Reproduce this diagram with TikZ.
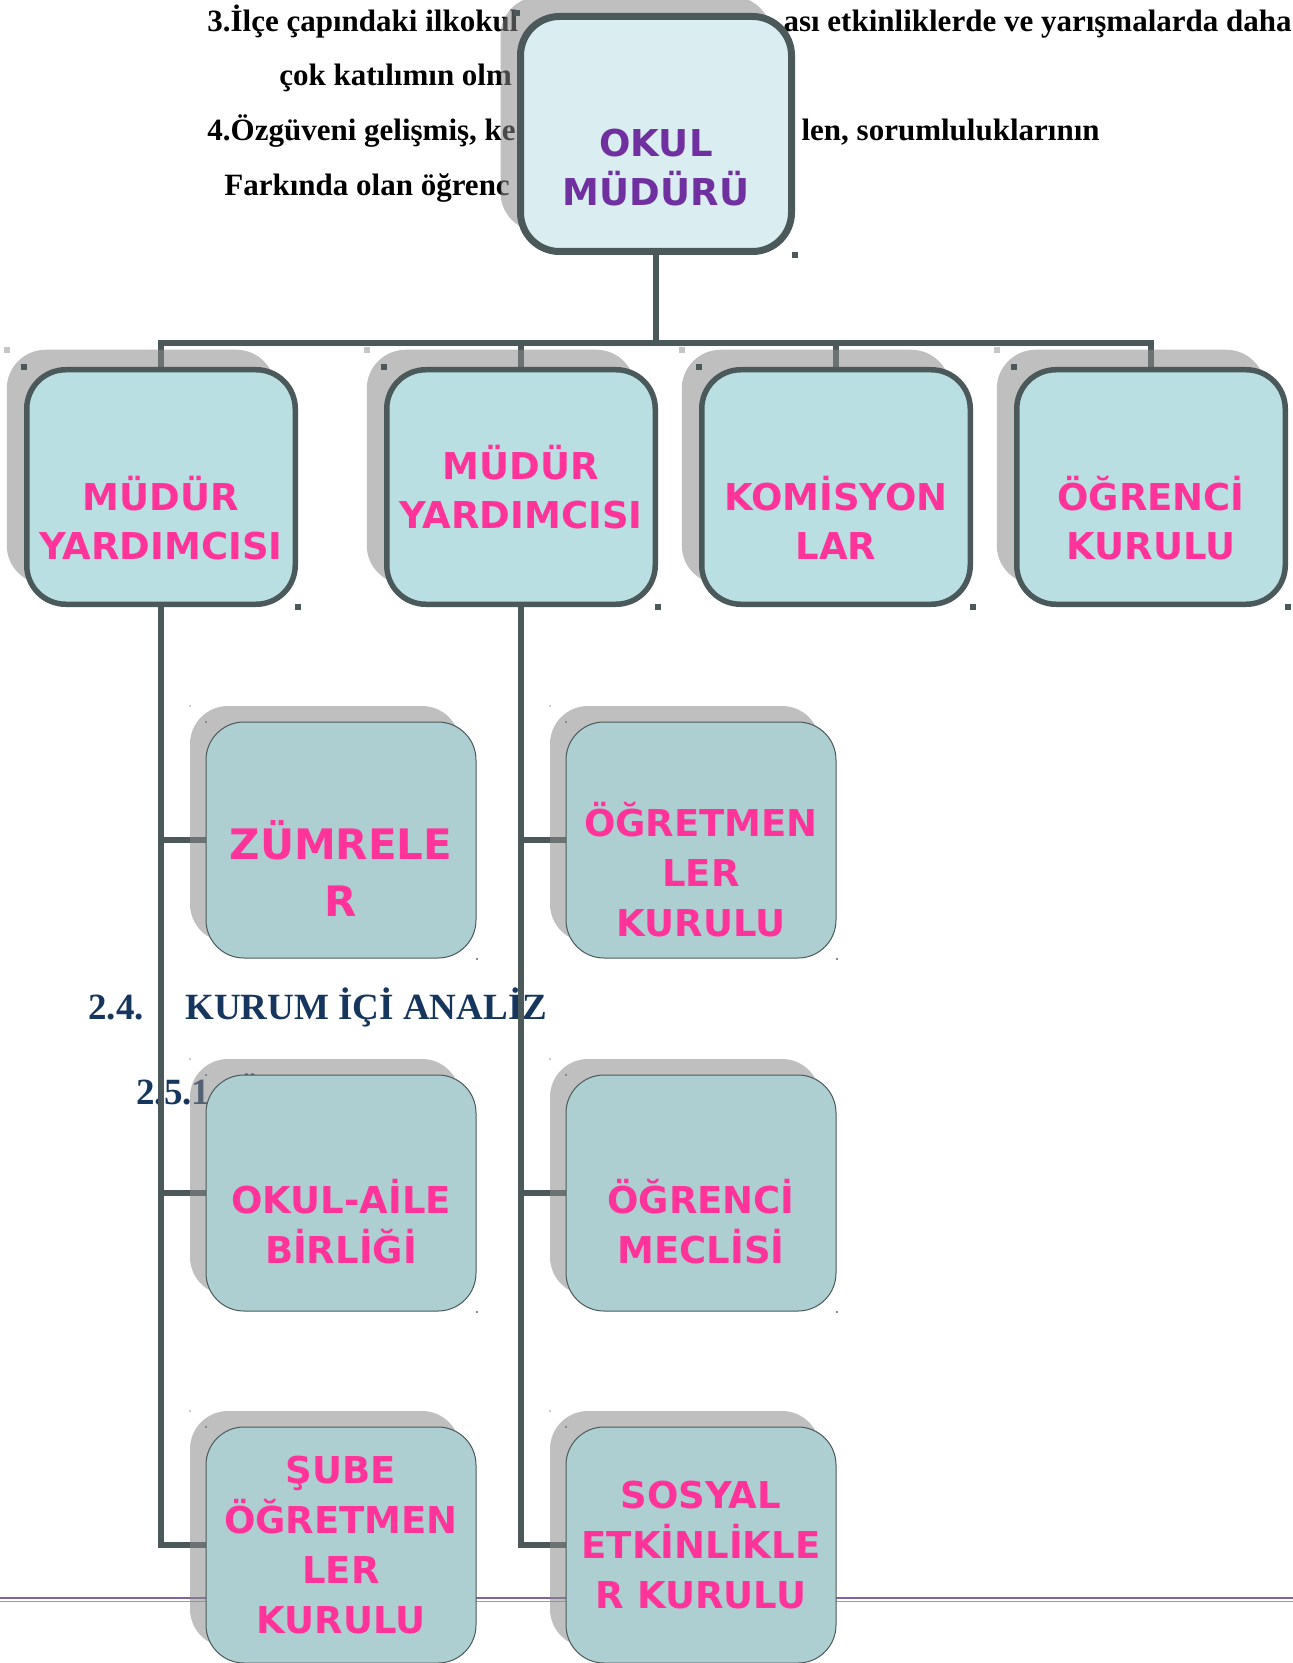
\documentclass[tikz,border=0pt]{standalone}
\usepackage{fontspec}
\setmainfont{Liberation Serif}
\newfontfamily\kutufont{DejaVu Sans}
\usetikzlibrary{shadows,backgrounds}
\definecolor{koyu}{HTML}{4B595A}
\definecolor{golgegri}{HTML}{888888}
\definecolor{ustmavi}{HTML}{DAEEF1}
\definecolor{birmavi}{HTML}{B9DFE2}
\definecolor{ikimavi}{HTML}{ADCFD2}
\definecolor{pembe}{HTML}{FF3399}
\definecolor{mor}{HTML}{7030A0}
\definecolor{lacivert}{HTML}{17365D}
\definecolor{cizgimor}{HTML}{8064A2}
\newcommand{\birim}{\kutufont\bfseries\fontsize{18.5}{24.5}\selectfont}
\newcommand{\birimb}{\kutufont\bfseries\fontsize{18.5}{25}\selectfont}
\newcommand{\metin}{\bfseries\fontsize{15.5}{18}\selectfont}
\newcommand{\baslik}{\bfseries\fontsize{18.5}{22}\selectfont}

\tikzset{
  golge/.style={general shadow={fill=golgegri,opacity=.54,shadow xshift=-#1,shadow yshift=#1}},
  ustkutu/.style={rectangle,rounded corners=19.5pt,draw=koyu,line width=3.5pt,fill=ustmavi,
                  minimum width=135.5pt,minimum height=117.5pt,inner sep=0pt,golge=10pt},
  birkutu/.style={rectangle,rounded corners=19.5pt,draw=koyu,line width=2.75pt,fill=birmavi,
                  minimum width=134.25pt,minimum height=117.25pt,inner sep=0pt,golge=10pt},
  ikikutu/.style={rectangle,rounded corners=19pt,draw=koyu,line width=0.5pt,fill=ikimavi,
                  minimum width=135pt,minimum height=118pt,inner sep=0pt,golge=8pt},
  yazi/.style={align=center,inner sep=0pt,text=pembe,font=\birim},
  sayfa/.style={anchor=base west,inner sep=0pt,font=\metin},
  baglanti/.style={draw=koyu,line width=2.9pt}
}

\begin{document}
\begin{tikzpicture}[x=0.5pt,y=-0.5pt]
 \useasboundingbox (0,0) rectangle (1293,1663);
 \clip (0,0) rectangle (1293,1663);

 % kutular
 \draw (656,134)  node[ustkutu] (OKUL) {};

 \draw (161,487)  node[birkutu] (MY1) {};
 \draw (521,487)  node[birkutu] (MY2) {};
 \draw (836,487)  node[birkutu] (KOM) {};
 \draw (1151,487) node[birkutu] (OGK) {};

 \draw (341,840)  node[ikikutu] (ZUM) {};
 \draw (341,1193) node[ikikutu] (OAB) {};
 \draw (341,1545) node[ikikutu] (SOK) {};
 \draw (701,840)  node[ikikutu] (OGR) {};
 \draw (701,1193) node[ikikutu] (OME) {};
 \draw (701,1545) node[ikikutu] (SEK) {};

 % kutu yazilari
 \draw (OKUL.center) node[yazi,text=mor,yshift=-17pt] (tOKUL) {OKUL\\MÜDÜRÜ};
 \draw (MY1.center) node[yazi,yshift=-15.5pt] (tMY1) {MÜDÜR\\YARDIMCISI};
 \draw (MY2.center) node[yazi] (tMY2) {MÜDÜR\\YARDIMCISI};
 \draw (KOM.center) node[yazi,yshift=-15.5pt] (tKOM) {KOMİSYON\\LAR};
 \draw (OGK.center) node[yazi,yshift=-15.5pt] (tOGK) {ÖĞRENCİ\\KURULU};

 \draw (ZUM.center) node[yazi,yshift=-14.25pt,font=\kutufont\bfseries\fontsize{21}{28.75}\selectfont] (tZUM) {ZÜMRELE\\R};
 \draw (OAB.center) node[yazi,yshift=-14.5pt,font=\birimb] (tOAB) {OKUL-AİLE\\BİRLİĞİ};
 \draw (SOK.center) node[yazi,font=\birimb] (tSOK) {ŞUBE\\ÖĞRETMEN\\LER\\KURULU};
 \draw (OGR.center) node[yazi,yshift=-15pt,font=\birimb] (tOGR) {ÖĞRETMEN\\LER\\KURULU};
 \draw (OME.center) node[yazi,yshift=-14.5pt,font=\birimb] (tOME) {ÖĞRENCİ\\MECLİSİ};
 \draw (SEK.center) node[yazi,font=\birimb] (tSEK) {SOSYAL\\ETKİNLİKLE\\R KURULU};

 % secim kareleri
 \foreach \n in {OKUL,MY1,MY2,KOM,OGK}{
   \fill[koyu] ([shift={(-3,-3)}]\n.north west) rectangle ++(6,6);
   \fill[koyu] ([shift={(-3,-3)}]\n.south east) rectangle ++(6,6);
   \fill[gray!45] ([shift={(-20,-20)}]\n.north west) rectangle ++(6,6);
 }
 \foreach \n in {ZUM,OAB,SOK,OGR,OME,SEK}{
   \fill[koyu!70] ([shift={(-1,-1)}]\n.north west) rectangle ++(2,2);
   \fill[koyu!70] ([shift={(-1,-1)}]\n.south east) rectangle ++(2,2);
   \fill[gray!40] ([shift={(-17,-17)}]\n.north west) rectangle ++(2,2);
 }

 \begin{scope}[on background layer]
  % sayfa metni
  \draw (207,32)   node[sayfa] (s1a) {3.İlçe çapındaki ilkokul};
  \draw (1292,32)  node[sayfa,anchor=base east] (s1b) {ası etkinliklerde ve yarışmalarda daha};
  \draw (279,86)   node[sayfa] (s2a) {çok katılımın olm};
  \draw (207,141)  node[sayfa] (s3a) {4.Özgüveni gelişmiş, ke};
  \draw (1100,141) node[sayfa,anchor=base east] (s3b) {len, sorumluluklarının};
  \draw (224,196)  node[sayfa] (s4a) {Farkında olan öğrenc};

  \draw (88,1019)  node[sayfa,font=\baslik,text=lacivert] (h24) {2.4.};
  \draw (185,1019) node[sayfa,font=\baslik,text=lacivert] (hki) {KURUM İÇİ ANALİZ};
  \draw (136,1104) node[sayfa,font=\baslik,text=lacivert] (h251) {2.5.1.\hspace{8pt}Ö};

  \draw[cizgimor,line width=1pt] (0,1597.5) -- (1293,1597.5);
  \draw[cizgimor!70,line width=.7pt] (0,1601.5) -- (1293,1601.5);

  % baglantilar
  \coordinate (bus) at (656,343);
  \foreach \n in {MY1,MY2,KOM,OGK}
    \draw[baglanti] (OKUL.south) |- (\n.north |- bus) -- (\n.north);
  \foreach \n in {ZUM,OAB,SOK}
    \draw[baglanti] (MY1.south) |- (\n.west);
  \foreach \n in {OGR,OME,SEK}
    \draw[baglanti] (MY2.south) |- (\n.west);
 \end{scope}
\end{tikzpicture}
\end{document}
